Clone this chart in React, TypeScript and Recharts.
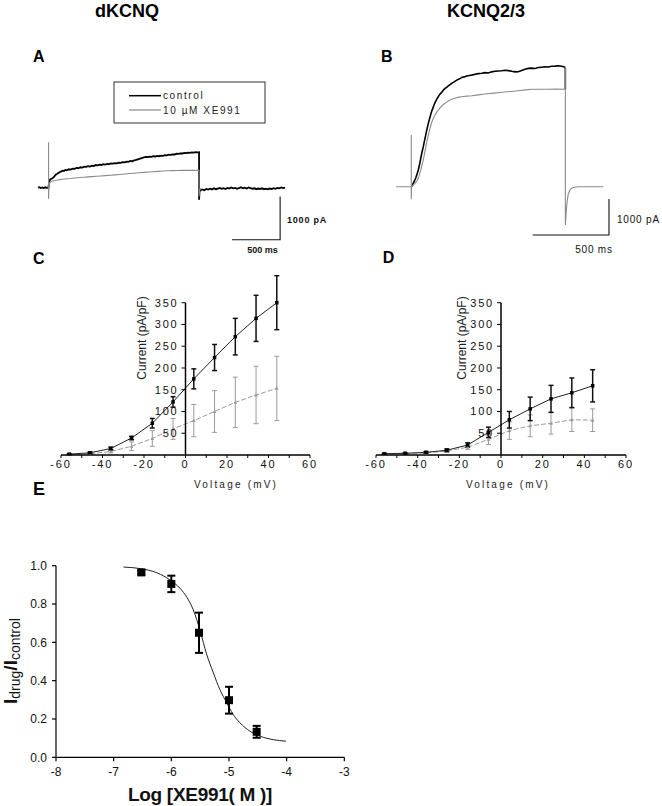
import React from 'react';
import { LineChart, Line, XAxis, YAxis, ErrorBar } from 'recharts';

const FONT = '"Liberation Sans", Arial, Helvetica, sans-serif';

// ---------------- Panel A: dKCNQ current traces  [time (ms), current (pA)]
const traceAControl: [number, number][] = [
  [0, 0], [15, 12], [30, -8], [45, 6], [60, -10], [75, 8], [90, -5], [105, 3], [110, 0],
  [113, 80], [118, 150], [125, 185], [135, 200], [145, 210], [156, 225], [170, 260], [185, 300],
  [200, 320], [215, 345], [226, 362], [240, 370], [255, 392], [270, 385], [285, 410], [300, 402],
  [320, 425], [340, 418], [360, 440], [380, 436], [400, 455], [420, 448], [440, 470], [460, 462],
  [480, 482], [500, 478], [520, 495], [540, 488], [560, 505], [580, 500], [600, 522], [620, 515],
  [640, 530], [660, 524], [680, 540], [700, 534], [720, 548], [740, 542], [760, 560], [780, 554],
  [800, 568], [820, 562], [840, 578], [860, 574], [880, 590], [900, 585], [920, 600], [940, 596],
  [960, 615], [980, 608], [1000, 630], [1020, 640], [1040, 655], [1060, 668], [1080, 680],
  [1100, 700], [1120, 712], [1140, 705], [1160, 718], [1180, 712], [1200, 725], [1220, 720],
  [1240, 732], [1260, 726], [1280, 740], [1300, 735], [1320, 748], [1340, 744], [1360, 760],
  [1380, 756], [1400, 770], [1420, 766], [1440, 782], [1460, 778], [1480, 792], [1500, 788],
  [1520, 802], [1540, 796], [1560, 810], [1580, 804], [1600, 815], [1620, 810], [1640, 822],
  [1660, 814], [1675, 818], [1675, -280], [1680, -90], [1690, -55], [1710, -40], [1730, -60],
  [1750, -30], [1770, -45], [1790, -25], [1810, -40], [1830, -15], [1850, -35], [1870, -20],
  [1890, -5], [1910, -25], [1930, -10], [1950, -30], [1970, -5], [1990, -20], [2010, 5],
  [2030, -15], [2050, -5], [2070, -25], [2090, -10], [2110, 10], [2130, -15], [2150, 0],
  [2170, -20], [2190, 5], [2210, -10], [2230, -25], [2250, -15], [2270, -35], [2290, -20],
  [2310, -30], [2330, -15], [2350, -35], [2370, -25], [2390, -40], [2410, -20], [2430, -30],
  [2450, -10], [2470, -25], [2490, -5], [2510, -15], [2530, 5], [2550, -10], [2570, 0],
];
const traceAXE991: [number, number][] = [
  [100, 0], [110, 0], [110, 1047], [110, -256], [113, 40], [118, 90], [125, 120], [135, 138],
  [145, 146], [156, 153], [175, 165], [200, 178], [226, 186], [260, 194], [300, 204], [340, 212],
  [380, 222], [434, 233], [480, 240], [520, 248], [560, 255], [608, 263], [650, 270], [700, 279],
  [750, 288], [800, 296], [850, 305], [900, 314], [955, 326], [1000, 334], [1050, 343],
  [1100, 352], [1150, 360], [1200, 368], [1250, 377], [1302, 386], [1350, 390], [1400, 393],
  [1450, 396], [1500, 398], [1550, 399], [1600, 400], [1675, 400], [1675, -200], [1682, -40],
  [1700, -20],
];
const scaleBarA: [number, number][] = [[2018, -1202], [2518, -1202], [2518, -202]];

// ---------------- Panel B: KCNQ2/3 current traces  [time (ms), current (pA)]
const traceBControl: [number, number][] = [
  [100, 0], [106, 25], [113, 94], [121, 160], [130, 250], [138, 350], [146, 464], [154, 610],
  [162, 780], [170, 950], [179, 1111], [187, 1280], [195, 1440], [203, 1600], [212, 1758],
  [220, 1890], [228, 2010], [236, 2120], [245, 2222], [253, 2310], [261, 2380], [269, 2445],
  [277, 2500], [288, 2570], [299, 2620], [310, 2680], [321, 2731], [332, 2760], [343, 2800],
  [354, 2835], [365, 2869], [381, 2910], [398, 2960], [414, 2990], [431, 3036], [447, 3050],
  [463, 3075], [480, 3090], [496, 3100], [518, 3125], [540, 3140], [562, 3150], [583, 3168],
  [605, 3160], [627, 3190], [649, 3205], [671, 3215], [693, 3222], [715, 3235], [737, 3225],
  [759, 3205], [780, 3190], [801, 3195], [823, 3230], [845, 3265], [867, 3286], [889, 3295],
  [911, 3285], [933, 3310], [955, 3320], [976, 3331], [998, 3325], [1020, 3345], [1042, 3350],
  [1064, 3360], [1086, 3345], [1100, 3330], [1108, 3310], [1110, 3280], [1110, 2706],
];
const traceBXE991: [number, number][] = [
  [0, 0], [100, 0], [100, 1436], [100, -350], [102, 0], [106, 15], [113, 47], [121, 80],
  [130, 120], [138, 170], [146, 233], [154, 340], [162, 460], [170, 600], [179, 742], [187, 920],
  [195, 1090], [203, 1270], [212, 1436], [220, 1580], [228, 1700], [236, 1810], [245, 1900],
  [253, 1970], [261, 2030], [269, 2085], [277, 2131], [288, 2190], [299, 2240], [310, 2280],
  [321, 2317], [332, 2350], [343, 2380], [354, 2405], [365, 2428], [381, 2450], [398, 2470],
  [414, 2488], [431, 2500], [463, 2515], [496, 2528], [540, 2550], [583, 2575], [640, 2600],
  [693, 2622], [750, 2645], [801, 2667], [850, 2690], [889, 2706], [950, 2706], [1000, 2708],
  [1050, 2710], [1107, 2706], [1110, 2706], [1110, 3330], [1110, -1064], [1114, -800],
  [1118, -556], [1124, -350], [1129, -203], [1140, -90], [1151, -44], [1170, -15], [1195, 0],
  [1250, 0], [1300, 0], [1358, 0],
];
const scaleBarB: [number, number][] = [[896, -1342], [1396, -1342], [1396, -342]];

// ---------------- Panels C / D: I-V relations
const voltages = [-56, -46, -36, -26, -16, -6, 4, 14, 24, 34, 44];
const cControl = [2, 5, 15, 39, 73, 122, 175, 224, 272, 314, 350];
const cControlSem = [1, 2, 3, 4, 11, 12, 23, 30, 42, 53, 62];
const cXE991 = [1, 3, 8, 20, 38, 60, 79, 100, 121, 138, 153];
const cXE991Sem = [1, 2, 3, 10, 18, 24, 37, 48, 58, 66, 74];
const dControl = [3, 4, 6, 11, 23, 52, 81, 106, 129, 143, 159];
const dControlSem = [1, 1, 2, 3, 5, 12, 19, 27, 31, 34, 37];
const dXE991 = [2, 3, 5, 9, 18, 36, 56, 67, 73, 81, 80];
const dXE991Sem = [1, 1, 2, 3, 5, 12, 20, 25, 25, 27, 26];
const ivXTicks = [-60, -50, -40, -30, -20, -10, 0, 10, 20, 30, 40, 50, 60];
const ivYTicks = [50, 100, 150, 200, 250, 300, 350];

// ---------------- Panel E: concentration-response
const eLogConc = [-6.52, -6.0, -5.52, -5.0, -4.52];
const eRatio = [0.965, 0.905, 0.65, 0.298, 0.133];
const eSem = [0.01, 0.043, 0.105, 0.07, 0.031];
const eFitLog = [-6.83, -6.54, -6.25, -6.02, -5.85, -5.73, -5.62, -5.5, -5.39, -5.27, -5.16, -5.04, -4.93, -4.81, -4.64, -4.46, -4.23, -4.01];
const eFitRatio = [0.993, 0.985, 0.963, 0.925, 0.882, 0.835, 0.77, 0.66, 0.54, 0.44, 0.355, 0.285, 0.225, 0.18, 0.137, 0.11, 0.092, 0.084];
const eXTicks = [-8, -7, -6, -5, -4, -3];
const eYTicks = [0, 0.2, 0.4, 0.6, 0.8, 1.0];

// ---------------- derived tables
const toTrace = (arr: [number, number][]) => arr.map(([t, i]) => ({ t, i }));
const ivTable = (ctrl: number[], ctrlSem: number[], xe: number[], xeSem: number[]) =>
  voltages.map((v, k) => ({ v, ctrl: ctrl[k], ctrlErr: ctrlSem[k], xe: xe[k], xeErr: xeSem[k] }));
const cData = ivTable(cControl, cControlSem, cXE991, cXE991Sem);
const dData = ivTable(dControl, dControlSem, dXE991, dXE991Sem);
const ePoints = eLogConc.map((x, k) => ({ x, y: eRatio[k], err: eSem[k] }));
const eFit = eFitLog.map((x, k) => ({ x, y: eFitRatio[k] }));

const squareDot = (size: number, fill: string) => (props: any) => {
  const { cx, cy, index } = props;
  if (cx == null || cy == null) return <g key={`n${index}`} />;
  return <rect key={`s${index}`} x={cx - size / 2} y={cy - size / 2} width={size} height={size} fill={fill} />;
};
const triDot = (size: number, fill: string) => (props: any) => {
  const { cx, cy, index } = props;
  if (cx == null || cy == null) return <g key={`n${index}`} />;
  const h = size / 2;
  return <path key={`t${index}`} d={`M${cx},${cy - h} L${cx + h},${cy + h * 0.8} L${cx - h},${cy + h * 0.8} Z`} fill={fill} />;
};

function TracePanel(props: {
  left: number; top: number; width: number; height: number;
  margin: { top: number; right: number; bottom: number; left: number };
  xDomain: [number, number]; yDomain: [number, number];
  control: any[]; xe: any[]; bar: any[]; ctrlWidth: number;
}) {
  return (
    <div style={{ position: 'absolute', left: props.left, top: props.top }}>
      <LineChart width={props.width} height={props.height} margin={props.margin}>
        <XAxis type="number" dataKey="t" domain={props.xDomain} hide />
        <YAxis type="number" domain={props.yDomain} hide />
        <Line data={props.control} dataKey="i" type="linear" stroke="#000" strokeWidth={props.ctrlWidth} dot={false} activeDot={false} isAnimationActive={false} />
        <Line data={props.xe} dataKey="i" type="linear" stroke="#8a8a8a" strokeWidth={1.1} dot={false} activeDot={false} isAnimationActive={false} />
        <Line data={props.bar} dataKey="i" type="linear" stroke="#111" strokeWidth={1.1} dot={false} activeDot={false} isAnimationActive={false} />
      </LineChart>
    </div>
  );
}

const XLabelIV = (p: any) => (
  <text x={p.cx} y={p.cy} textAnchor="middle" fontSize={10} fill="#222" fontFamily={FONT} letterSpacing={2.2}>Voltage (mV)</text>
);
const YLabelIV = (p: any) => (
  <text x={p.bx} y={p.cy} transform={`rotate(-90 ${p.bx} ${p.cy})`} textAnchor="middle" fontSize={12} fill="#222" fontFamily={FONT}>Current (pA/pF)</text>
);

function IVPanel(props: { left: number; data: any[]; ml: number; mr: number; zero: number; xLabelX: number; yLabelX: number }) {
  const tickStyle = { fontSize: 11, fill: '#111', fontFamily: FONT, letterSpacing: 1.8 };
  return (
    <div style={{ position: 'absolute', left: props.left, top: 260 }}>
      <div style={{ position: 'absolute', left: 0, top: 0 }}>
        <LineChart width={331} height={235} data={props.data} margin={{ top: 12.24, right: props.mr, bottom: 20, left: props.ml }}>
          <XAxis type="number" dataKey="v" domain={[-60, 60]} ticks={ivXTicks} interval={0}
            tickFormatter={(v: number) => (v % 20 === 0 ? String(v) : '')}
            height={20} tickSize={3} tickMargin={2}
            axisLine={{ stroke: '#000', strokeWidth: 1.5 }} tickLine={{ stroke: '#000', strokeWidth: 1 }}
            tick={tickStyle} label={<XLabelIV cx={props.xLabelX} cy={227.5} />} />
          <YAxis type="number" domain={[0, 420]} hide allowDataOverflow />
          <Line dataKey="xe" type="linear" stroke="#9a9a9a" strokeWidth={1} strokeDasharray="5 2"
            dot={triDot(3.6, '#999')} activeDot={false} isAnimationActive={false}>
            <ErrorBar dataKey="xeErr" width={2.5} stroke="#9a9a9a" strokeWidth={1} direction="y" />
          </Line>
          <Line dataKey="ctrl" type="linear" stroke="#222" strokeWidth={1}
            dot={squareDot(3.5, '#000')} activeDot={false} isAnimationActive={false}>
            <ErrorBar dataKey="ctrlErr" width={2.5} stroke="#111" strokeWidth={1.5} direction="y" />
          </Line>
        </LineChart>
      </div>
      <div style={{ position: 'absolute', left: 0, top: 0 }}>
        <LineChart width={331} height={235} data={props.data} margin={{ top: 42.7, right: 20, bottom: 40, left: props.zero - 40 }}>
          <XAxis type="number" dataKey="v" domain={[-60, 60]} hide />
          <YAxis type="number" domain={[0, 350]} allowDataOverflow ticks={ivYTicks} interval={0} width={40}
            tickSize={4} tickMargin={3}
            axisLine={{ stroke: '#000', strokeWidth: 1.5 }} tickLine={{ stroke: '#000', strokeWidth: 1 }}
            tick={tickStyle} label={<YLabelIV bx={props.yLabelX} cy={78} />} />
        </LineChart>
      </div>
    </div>
  );
}

const EXLabel = () => (
  <text x={200} y={270.7} textAnchor="middle" fontWeight="bold" fontSize={19} fill="#111" fontFamily={FONT} letterSpacing={-0.3}>Log [XE991( M )]</text>
);
const EYLabel = () => (
  <text x={16.7} y={131} transform="rotate(-90 16.7 131)" textAnchor="middle" fill="#111" fontFamily={FONT}>
    <tspan fontWeight="bold" fontSize={19}>I</tspan>
    <tspan fontSize={14} dy={3}>drug</tspan>
    <tspan fontWeight="bold" fontSize={19} dy={-3}>/I</tspan>
    <tspan fontSize={14} dy={3}>control</tspan>
  </text>
);

export default function App() {
  const eTick = { fontSize: 12, fill: '#111', fontFamily: FONT };
  return (
    <div style={{ position: 'absolute', left: 0, top: 0, width: 662, height: 806, background: '#fff', fontFamily: FONT, overflow: 'hidden' }}>
      <TracePanel left={0} top={60} width={331} height={200}
        margin={{ top: 80, right: 43, bottom: 16, left: 38 }}
        xDomain={[0, 2600]} yDomain={[-1300, 1100]}
        control={toTrace(traceAControl)} xe={toTrace(traceAXE991)} bar={toTrace(scaleBarA)} ctrlWidth={1.8} />
      <TracePanel left={331} top={40} width={331} height={220}
        margin={{ top: 20.7, right: 52.4, bottom: 19.3, left: 65 }}
        xDomain={[0, 1400]} yDomain={[-1500, 3500]}
        control={toTrace(traceBControl)} xe={toTrace(traceBXE991)} bar={toTrace(scaleBarB)} ctrlWidth={1.6} />

      <IVPanel left={0} data={cData} ml={61} mr={21} zero={185.5} xLabelX={236} yLabelX={146} />
      <IVPanel left={331} data={dData} ml={45} mr={36} zero={170} xLabelX={177} yLabelX={134.5} />

      <div style={{ position: 'absolute', left: 0, top: 530 }}>
        <LineChart width={420} height={276} margin={{ top: 35.7, right: 75.7, bottom: 23.7, left: 11 }}>
          <XAxis type="number" dataKey="x" domain={[-8, -3]} ticks={eXTicks} interval={0} height={25}
            tickSize={4} tickMargin={6} allowDataOverflow
            axisLine={{ stroke: '#000', strokeWidth: 1.2 }} tickLine={{ stroke: '#000', strokeWidth: 1.2 }}
            tick={eTick} label={<EXLabel />} />
          <YAxis type="number" domain={[0, 1]} ticks={eYTicks} interval={0} width={45}
            tickSize={4} tickMargin={5} allowDataOverflow
            tickFormatter={(v: number) => v.toFixed(1)}
            axisLine={{ stroke: '#000', strokeWidth: 1.2 }} tickLine={{ stroke: '#000', strokeWidth: 1.2 }}
            tick={eTick} label={<EYLabel />} />
          <Line data={eFit} dataKey="y" type="monotone" stroke="#222" strokeWidth={1} dot={false} activeDot={false} isAnimationActive={false} />
          <Line data={ePoints} dataKey="y" type="linear" stroke="none" dot={squareDot(8, '#000')} activeDot={false} isAnimationActive={false}>
            <ErrorBar dataKey="err" width={4} stroke="#000" strokeWidth={2} direction="y" />
          </Line>
        </LineChart>
      </div>

      <svg width={662} height={806} style={{ position: 'absolute', left: 0, top: 0, pointerEvents: 'none' }} fontFamily={FONT}>
        <text x={127} y={16.5} textAnchor="middle" fontWeight="bold" fontSize={18} fill="#000">dKCNQ</text>
        <text x={486} y={16.5} textAnchor="middle" fontWeight="bold" fontSize={18} fill="#000">KCNQ2/3</text>
        <text x={33} y={62} fontWeight="bold" fontSize={16} fill="#000">A</text>
        <text x={381} y={61.7} fontWeight="bold" fontSize={16} fill="#000">B</text>
        <text x={33} y={264} fontWeight="bold" fontSize={16} fill="#000">C</text>
        <text x={382.7} y={263} fontWeight="bold" fontSize={16} fill="#000">D</text>
        <text x={33} y={495} fontWeight="bold" fontSize={18} fill="#000">E</text>

        <rect x={114} y={82} width={151} height={41} fill="none" stroke="#333" strokeWidth={1} />
        <line x1={129} y1={95.7} x2={161} y2={95.7} stroke="#000" strokeWidth={1.5} />
        <line x1={129} y1={110} x2={161} y2={110} stroke="#8a8a8a" strokeWidth={1.2} />
        <text x={163} y={99.3} fontSize={10} fill="#222" letterSpacing={1.6}>control</text>
        <text x={163} y={113.6} fontSize={10} fill="#222" letterSpacing={1.6}>10 µM XE991</text>

        <text x={287} y={223.3} fontSize={9} fontWeight="bold" fill="#111" letterSpacing={0.8}>1000 pA</text>
        <text x={262.5} y={253} textAnchor="middle" fontSize={9} fontWeight="bold" fill="#111">500 ms</text>
        <text x={617} y={223.3} fontSize={10} fill="#111" letterSpacing={0.8}>1000 pA</text>
        <text x={594} y={252.7} textAnchor="middle" fontSize={10} fill="#111" letterSpacing={0.8}>500 ms</text>
      </svg>
    </div>
  );
}
